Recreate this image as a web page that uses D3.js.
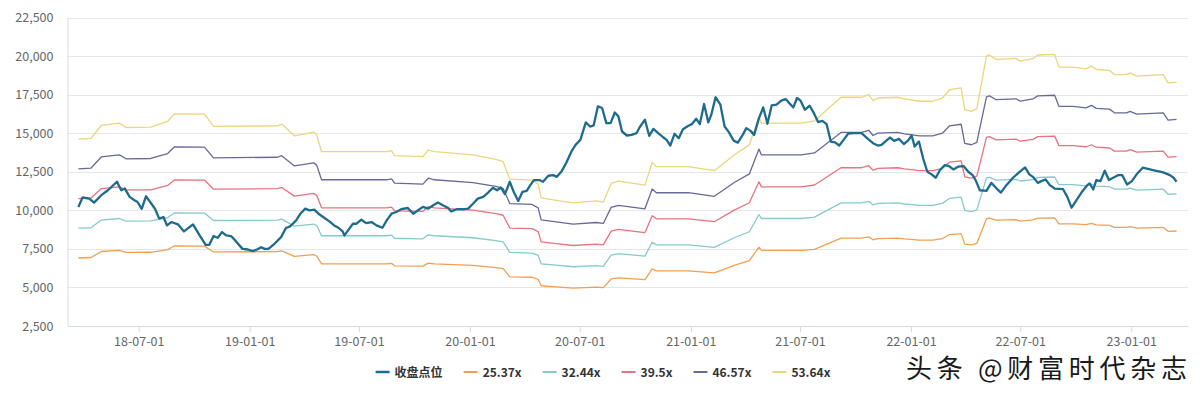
<!DOCTYPE html>
<html>
<head>
<meta charset="utf-8">
<script src="https://cdn.jsdelivr.net/npm/d3@7"></script>
<style>
  html, body { margin: 0; padding: 0; background: #ffffff; }
  svg { display: block; }
</style>
</head>
<body>
<svg id="chart" width="1200" height="396"></svg>
<script>
// ---------------- DATA ----------------
const seriesNames = ["收盘点位", "25.37x", "32.44x", "39.5x", "46.57x", "53.64x"];

const closeDates = [
"2018-03-23","2018-03-30","2018-04-10","2018-04-18","2018-04-30","2018-05-11","2018-05-26","2018-06-02","2018-06-08","2018-06-16",
"2018-06-24","2018-06-29","2018-07-06","2018-07-13","2018-07-20","2018-07-28","2018-08-04","2018-08-11","2018-08-17","2018-08-24",
"2018-09-04","2018-09-14","2018-09-29","2018-10-10","2018-10-20","2018-10-26","2018-11-02","2018-11-09","2018-11-16","2018-11-23",
"2018-12-01","2018-12-09","2018-12-20","2018-12-29","2019-01-06","2019-01-13","2019-01-20","2019-01-26","2019-02-01","2019-02-11",
"2019-02-22","2019-03-02","2019-03-09","2019-03-19","2019-03-26","2019-04-03","2019-04-10","2019-04-18","2019-04-25","2019-05-05",
"2019-05-13","2019-05-21","2019-05-28","2019-06-04","2019-06-07","2019-06-13","2019-06-21","2019-06-27","2019-07-05","2019-07-13",
"2019-07-22","2019-07-30","2019-08-09","2019-08-16","2019-08-24","2019-09-01","2019-09-09","2019-09-20","2019-09-29","2019-10-07",
"2019-10-15","2019-10-24","2019-11-01","2019-11-09","2019-11-17","2019-11-26","2019-12-01","2019-12-10","2019-12-23","2019-12-29",
"2020-01-06","2020-01-14","2020-01-23","2020-01-31","2020-02-08","2020-02-15","2020-02-21","2020-02-28","2020-03-07","2020-03-14",
"2020-03-21","2020-03-28","2020-04-04","2020-04-10","2020-04-16","2020-04-25","2020-05-01","2020-05-10","2020-05-18","2020-05-24",
"2020-06-01","2020-06-09","2020-06-17","2020-06-24","2020-07-02","2020-07-11","2020-07-18","2020-07-24","2020-07-31","2020-08-07",
"2020-08-14","2020-08-21","2020-08-28","2020-09-03","2020-09-09","2020-09-17","2020-09-25","2020-10-03","2020-10-08","2020-10-17",
"2020-10-24","2020-10-31","2020-11-08","2020-11-16","2020-11-22","2020-11-28","2020-12-05","2020-12-12","2020-12-19","2020-12-28",
"2021-01-03","2021-01-10","2021-01-16","2021-01-23","2021-01-30","2021-02-04","2021-02-11","2021-02-19","2021-02-26","2021-03-05",
"2021-03-13","2021-03-20","2021-03-28","2021-04-03","2021-04-10","2021-04-16","2021-04-24","2021-05-01","2021-05-08","2021-05-15",
"2021-05-23","2021-05-31","2021-06-07","2021-06-12","2021-06-20","2021-06-26","2021-07-02","2021-07-09","2021-07-17","2021-07-24",
"2021-07-31","2021-08-07","2021-08-14","2021-08-21","2021-08-28","2021-09-04","2021-09-10","2021-09-19","2021-09-27","2021-10-11",
"2021-10-22","2021-10-30","2021-11-07","2021-11-13","2021-11-21","2021-11-27","2021-12-04","2021-12-12","2021-12-20","2021-12-27",
"2022-01-02","2022-01-07","2022-01-14","2022-01-21","2022-01-28","2022-02-04","2022-02-11","2022-02-18","2022-02-26","2022-03-05",
"2022-03-12","2022-03-20","2022-03-29","2022-04-06","2022-04-13","2022-04-18","2022-04-25","2022-05-06","2022-05-14","2022-05-23",
"2022-05-30","2022-06-08","2022-06-19","2022-06-29","2022-07-09","2022-07-16","2022-07-22","2022-07-30","2022-08-05","2022-08-12",
"2022-08-19","2022-08-27","2022-09-10","2022-09-17","2022-09-24","2022-10-02","2022-10-12","2022-10-20","2022-10-24","2022-10-30",
"2022-11-04","2022-11-11","2022-11-18","2022-11-25","2022-12-02","2022-12-10","2022-12-17","2022-12-25","2023-01-02","2023-01-11",
"2023-01-20","2023-02-06","2023-02-23","2023-03-06","2023-03-12","2023-03-17"
];

const closeValues = [
10220,10830,10760,10500,10980,11300,11850,11300,11410,10870,
10650,10540,10100,10910,10540,10100,9460,9570,9020,9240,
9090,8630,9090,8370,7760,7760,8330,8220,8590,8370,
8330,8000,7500,7460,7350,7460,7610,7500,7500,7830,
8260,8850,8960,9350,9780,10110,10000,10040,9780,9500,
9280,9020,8870,8630,8370,8700,9130,9130,9390,9170,
9240,9020,8870,9350,9780,9890,10070,10150,9780,10000,
10220,10110,10330,10500,10330,10150,9930,10070,10070,10110,
10430,10760,10870,11150,11460,11300,11480,11050,11850,11150,
10610,11200,11260,11630,11960,11960,11850,12240,12280,12170,
12540,13110,13800,14240,14570,15700,15430,15500,16740,16630,
15650,15650,16340,16090,15110,14850,14890,15000,15370,15870,
14830,15280,15000,14740,14570,14200,14960,14670,15260,15480,
15590,15930,15590,16890,15700,16200,17330,16850,15430,15070,
14520,14390,14890,15330,15150,14890,15980,16670,15610,16800,
16850,17110,17220,17000,16670,17280,17110,16520,16780,16300,
15720,15800,15590,14460,14410,14200,14500,14980,15000,15000,
14610,14350,14200,14240,14520,14720,14500,14630,14300,14520,
14850,14130,14460,13370,12500,12330,12110,12610,12930,12870,
12650,12830,12870,12500,12280,11960,11300,11260,11780,11410,
11150,11630,12110,12460,12780,12330,12170,11780,11890,12000,
11630,11410,11370,10870,10170,10650,11240,11630,11740,11350,
11960,11890,12570,11960,12110,12280,12280,11670,11890,12390,
12760,12610,12460,12280,12110,11850
];

const bandDates = [
"2018-03-23","2018-04-13","2018-04-30","2018-05-30","2018-06-10","2018-07-21","2018-08-18","2018-08-29","2018-10-18","2018-11-02",
"2019-02-16","2019-02-23","2019-03-16","2019-04-17","2019-04-22","2019-04-30","2019-08-16","2019-08-24","2019-08-29","2019-10-15",
"2019-10-24","2019-11-03","2020-01-06","2020-02-13","2020-02-25","2020-03-07","2020-04-13","2020-04-23","2020-04-28","2020-05-23",
"2020-06-20","2020-07-28","2020-08-09","2020-08-22","2020-09-03","2020-10-17","2020-10-29","2020-11-05","2020-12-28","2021-02-09",
"2021-03-14","2021-04-08","2021-04-24","2021-04-28","2021-07-03","2021-07-25","2021-09-07","2021-10-11","2021-10-23","2021-10-30",
"2021-11-07","2021-12-10","2021-12-21","2022-01-15","2022-02-06","2022-02-22","2022-03-06","2022-03-25","2022-03-31","2022-04-11",
"2022-04-20","2022-05-06","2022-05-11","2022-05-22","2022-06-24","2022-07-01","2022-07-22","2022-07-30","2022-08-27","2022-09-03",
"2022-09-26","2022-10-18","2022-10-27","2022-11-04","2022-11-26","2022-12-04","2022-12-24","2022-12-30","2023-01-10","2023-02-23",
"2023-03-03","2023-03-17"
];

const band2537 = [
6910,6940,7330,7400,7270,7280,7450,7690,7680,7300,
7320,7370,7010,7130,7040,6530,6530,6560,6400,6380,
6580,6530,6430,6290,6220,5690,5660,5530,5110,5040,
4960,5020,4990,5550,5620,5500,6200,6070,6070,5950,
6430,6740,7610,7400,7400,7470,8200,8200,8280,8090,
8170,8200,8150,8070,8070,8170,8430,8490,7810,7760,
7850,9460,9490,9360,9390,9300,9380,9490,9510,9120,
9120,9070,9150,9050,9020,8890,8890,8940,8850,8890,
8640,8660
];

const band3244 = [
8840,8870,9370,9470,9300,9310,9530,9830,9820,9340,
9360,9430,8970,9110,9010,8350,8350,8390,8190,8150,
8410,8350,8220,8040,7950,7270,7230,7080,6530,6440,
6340,6420,6370,7100,7190,7030,7930,7760,7760,7600,
8220,8610,9730,9470,9470,9560,10480,10480,10580,10350,
10450,10480,10410,10320,10320,10450,10780,10850,9990,9920,
10030,12100,12140,11960,12010,11900,11990,12140,12160,11660,
11660,11590,11700,11570,11530,11370,11370,11440,11310,11370,
11040,11070
];

const band395 = [
10760,10800,11410,11520,11320,11330,11610,11970,11960,11370,
11400,11480,10920,11100,10970,10160,10160,10210,9970,9930,
10240,10160,10010,9790,9680,8850,8810,8620,7950,7840,
7720,7810,7760,8650,8760,8560,9650,9450,9450,9260,
10010,10490,11850,11520,11520,11640,12760,12760,12890,12600,
12720,12760,12680,12570,12570,12720,13130,13210,12170,12080,
12220,14730,14780,14570,14620,14480,14600,14780,14810,14200,
14200,14120,14250,14090,14040,13840,13840,13930,13770,13840,
13450,13480
];

const band4657 = [
12680,12740,13460,13590,13340,13360,13680,14110,14100,13400,
13440,13540,12880,13080,12930,11980,11980,12040,11760,11700,
12080,11980,11800,11550,11420,10440,10380,10160,9380,9250,
9100,9210,9150,10190,10320,10100,11380,11140,11140,10910,
11800,12360,13970,13590,13590,13720,15050,15050,15190,14850,
15000,15050,14950,14820,14820,15000,15480,15580,14340,14250,
14400,17360,17420,17170,17230,17080,17220,17420,17460,16740,
16740,16640,16800,16610,16560,16320,16320,16420,16240,16320,
15850,15890
];

const band5364 = [
14610,14670,15500,15650,15370,15390,15760,16250,16240,15440,
15480,15590,14830,15070,14890,13800,13800,13870,13540,13480,
13910,13800,13590,13300,13150,12020,11960,11700,10800,10650,
10480,10610,10540,11740,11890,11630,13110,12830,12830,12570,
13590,14240,16090,15650,15650,15800,17330,17330,17500,17110,
17280,17330,17220,17070,17070,17280,17830,17940,16520,16410,
16590,20000,20070,19780,19850,19670,19830,20070,20110,19280,
19280,19170,19350,19130,19070,18800,18800,18910,18700,18800,
18260,18300
];

const yTicks = [2500, 5000, 7500, 10000, 12500, 15000, 17500, 20000, 22500];
const xTickLabels = ["18-07-01","19-01-01","19-07-01","20-01-01","20-07-01","21-01-01","21-07-01","22-01-01","22-07-01","23-01-01"];
const xDomain = ["2018-03-05", "2023-04-05"];
const watermark = "头条 @财富时代杂志";

// ---------------- STYLE ----------------
const colors = ["#1f6b8e", "#f2a04f", "#86caca", "#e8727e", "#666a98", "#ebd67c"];
const widths = [2.3, 1.3, 1.3, 1.3, 1.3, 1.3];

// ---------------- CHART ----------------
(function draw() {
  const parse = d3.timeParse("%Y-%m-%d");
  const parseTick = d3.timeParse("%y-%m-%d");
  const svg = d3.select("#chart");
  const pL = 67.5, pR = 1188, pT = 17.5, pB = 326;
  const font = "'Noto Sans CJK SC', 'Noto Sans', sans-serif";

  const x = d3.scaleTime().domain(xDomain.map(parse)).range([pL, pR]);
  const y = d3.scaleLinear().domain([2500, 22500]).range([pB, pT]);

  // grid lines
  svg.append("g").selectAll("line").data(yTicks.slice(1)).join("line")
    .attr("x1", pL).attr("x2", pR)
    .attr("y1", d => Math.round(y(d)) + 0.5).attr("y2", d => Math.round(y(d)) + 0.5)
    .attr("stroke", "#e6e6e6").attr("stroke-width", 1);

  // y axis
  const yAxis = d3.axisLeft(y).tickValues(yTicks).tickFormat(d3.format(",")).tickSize(0).tickPadding(14);
  const gy = svg.append("g").attr("transform", `translate(${pL},0)`).call(yAxis);
  gy.select(".domain").attr("stroke", "#d5dbe6");
  gy.selectAll("text").attr("font-family", font).attr("font-size", 12.5).attr("fill", "#666");

  // x axis
  const xAxis = d3.axisBottom(x).tickValues(xTickLabels.map(parseTick)).tickFormat(d3.timeFormat("%y-%m-%d"))
    .tickSize(6).tickPadding(5).tickSizeOuter(0);
  const gx = svg.append("g").attr("transform", `translate(0,${pB})`).call(xAxis);
  gx.select(".domain").attr("stroke", "#d5dbe6");
  gx.selectAll(".tick line").attr("stroke", "#d5dbe6");
  gx.selectAll("text").attr("font-family", font).attr("font-size", 12.5).attr("fill", "#666");

  // lines
  const bandSeries = [band2537, band3244, band395, band4657, band5364];
  const lineGen = d3.line().x(d => x(d[0])).y(d => y(d[1]));
  const gLines = svg.append("g");
  for (let i = bandSeries.length - 1; i >= 0; i--) {
    const pts = bandDates.map((d, j) => [parse(d), bandSeries[i][j]]);
    gLines.append("path").attr("d", lineGen(pts)).attr("fill", "none")
      .attr("stroke", colors[i + 1]).attr("stroke-width", widths[i + 1])
      .attr("stroke-linejoin", "round");
  }
  const closePts = closeDates.map((d, j) => [parse(d), closeValues[j]]);
  gLines.append("path").attr("d", lineGen(closePts)).attr("fill", "none")
    .attr("stroke", colors[0]).attr("stroke-width", widths[0])
    .attr("stroke-linejoin", "round");

  // legend
  const legend = svg.append("g");
  let cx = 0;
  const items = [];
  seriesNames.forEach((name, i) => {
    const g = legend.append("g");
    g.append("line").attr("x1", 0).attr("x2", 14).attr("y1", 0).attr("y2", 0)
      .attr("stroke", colors[i]).attr("stroke-width", i === 0 ? 2.5 : 2);
    const t = g.append("text").attr("x", 19).attr("y", 4.5).text(name)
      .attr("font-family", font).attr("font-size", 12).attr("font-weight", "bold").attr("fill", "#333");
    const w = 19 + t.node().getComputedTextLength();
    items.push({ g, x: cx });
    cx += w + 21;
  });
  const totalW = cx - 21;
  const startX = 603 - totalW / 2;
  items.forEach(it => it.g.attr("transform", `translate(${startX + it.x},372)`));

  // watermark
  svg.append("text").attr("x", 906).attr("y", 378).text(watermark)
    .attr("font-family", font).attr("font-size", 26)
    .attr("textLength", 281).attr("lengthAdjust", "spacing")
    .attr("fill", "#1a1a1a")
    .attr("stroke", "#ffffff").attr("stroke-width", 0.6).attr("paint-order", "stroke");
})();
</script>
</body>
</html>
